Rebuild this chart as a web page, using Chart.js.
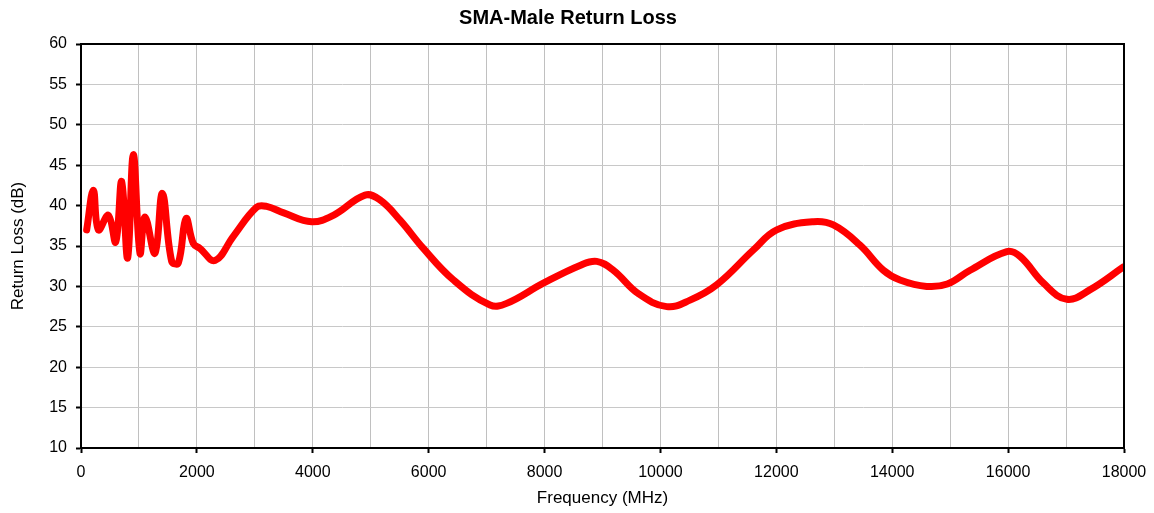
<!DOCTYPE html>
<html>
<head>
<meta charset="utf-8">
<script src="https://cdn.jsdelivr.net/npm/chart.js@4/dist/chart.umd.min.js"></script>
<style>
  html, body { margin: 0; padding: 0; background: #fff; }
  #wrap { width: 1154px; height: 513px; position: relative; }
</style>
</head>
<body>
<div id="wrap"><canvas id="c" width="1154" height="513"></canvas></div>
<script>
const chartTitle = "SMA-Male Return Loss";
const xAxisTitle = "Frequency (MHz)";
const yAxisTitle = "Return Loss (dB)";

const frequencyMHz = [98, 213, 300, 472, 599, 702, 805, 903, 1018, 1105, 1277, 1404, 1565, 1680, 1812, 1939, 2054, 2313, 2629, 3032, 3204, 3500, 3980, 4355, 4902, 5160, 5506, 5908, 6426, 7059, 7346, 7979, 8612, 8900, 9187, 9619, 10108, 10511, 10972, 11603, 12007, 12640, 12985, 13444, 13847, 14134, 14595, 14950, 15345, 15978, 16208, 16611, 17014, 17417, 17990];
const returnLossDB = [37.0, 41.9, 37.0, 38.8, 35.5, 43.0, 33.5, 46.3, 34.1, 38.6, 34.1, 41.5, 33.1, 32.9, 38.4, 35.3, 34.7, 33.2, 36.2, 39.8, 39.9, 39.1, 38.0, 38.8, 41.3, 40.7, 38.2, 34.7, 30.8, 27.7, 27.9, 30.4, 32.6, 33.1, 32.0, 29.1, 27.5, 28.3, 30.2, 34.5, 37.0, 38.0, 37.6, 35.1, 32.0, 30.8, 30.0, 30.3, 32.0, 34.3, 33.7, 30.4, 28.4, 29.6, 32.4];

const xMin = 0, xMax = 18000, xGridStep = 1000, xLabelStep = 2000;
const yMin = 10, yMax = 60, yStep = 5;

const points = frequencyMHz.map((f, i) => ({ x: f, y: returnLossDB[i] }));
const FONT = "Arial, 'Liberation Sans', sans-serif";

const frame = {
  id: 'frame',
  afterDatasetsDraw(chart) {
    const { ctx, chartArea: a } = chart;
    ctx.save();
    ctx.strokeStyle = '#000';
    ctx.lineWidth = 2;
    ctx.strokeRect(a.left, a.top, a.right - a.left, a.bottom - a.top);
    ctx.restore();
  }
};

new Chart(document.getElementById('c'), {
  type: 'line',
  data: {
    datasets: [{
      data: points,
      borderColor: '#ff0000',
      borderWidth: 7,
      pointRadius: 0,
      fill: false,
      tension: 0.4,
      borderCapStyle: 'round',
      borderJoinStyle: 'round'
    }]
  },
  options: {
    responsive: false,
    animation: false,
    layout: { padding: { left: 0, right: 18, top: 0, bottom: 0 } },
    plugins: {
      legend: { display: false },
      tooltip: { enabled: false },
      title: {
        display: true,
        text: chartTitle,
        color: '#000',
        font: { family: FONT, size: 20, weight: 'bold' },
        padding: { top: 6, bottom: 14 }
      }
    },
    scales: {
      x: {
        type: 'linear',
        min: xMin, max: xMax,
        afterFit(s) { s.height = 65; s.paddingLeft = 0; s.paddingRight = 0; },
        ticks: {
          stepSize: xGridStep,
          autoSkip: false,
          maxRotation: 0,
          color: '#000',
          padding: 10,
          font: { family: FONT, size: 16 },
          callback: v => (v % xLabelStep === 0 ? String(v) : '')
        },
        grid: {
          color: '#c0c0c0',
          lineWidth: 1,
          tickLength: 5,
          tickColor: ctx => (ctx.tick && ctx.tick.value % xLabelStep === 0 ? '#000' : 'rgba(0,0,0,0)'),
          tickWidth: 2
        },
        border: { display: true, color: '#000', width: 2 },
        title: {
          display: true,
          text: xAxisTitle,
          color: '#000',
          font: { family: FONT, size: 17 },
          padding: { top: 0, bottom: 4 }
        }
      },
      y: {
        min: yMin, max: yMax,
        afterFit(s) { s.width = 81; },
        ticks: {
          stepSize: yStep,
          color: '#000',
          padding: 9,
          font: { family: FONT, size: 16 }
        },
        grid: {
          color: '#c8c8c8',
          lineWidth: 1,
          tickLength: 5,
          tickColor: '#000',
          tickWidth: 2
        },
        border: { display: true, color: '#000', width: 2 },
        title: {
          display: true,
          text: yAxisTitle,
          color: '#000',
          font: { family: FONT, size: 17 },
          padding: { top: 8, bottom: 0 }
        }
      },
      yRight: {
        position: 'right',
        min: yMin, max: yMax,
        afterFit(s) { s.width = 12; },
        ticks: { display: false },
        grid: { display: false, drawTicks: false },
        border: { display: false },
        title: { display: false }
      }
    }
  },
  plugins: [frame]
});
</script>
</body>
</html>
